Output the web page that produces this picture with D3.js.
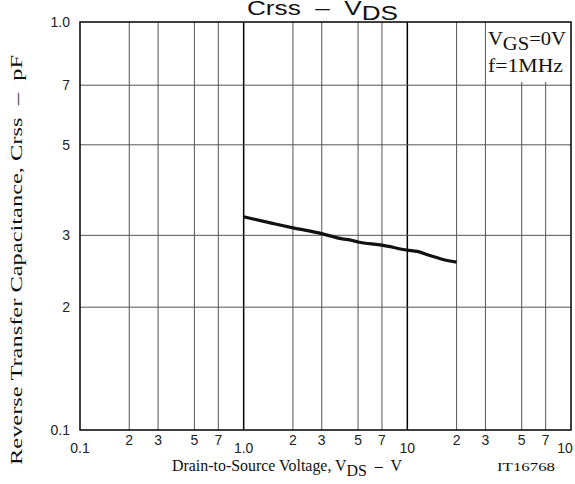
<!DOCTYPE html>
<html><head><meta charset="utf-8">
<script src="https://cdn.jsdelivr.net/npm/d3@7"></script>
<style>body{margin:0;background:#fff}svg{display:block}text{white-space:pre}</style>
</head><body>
<svg id="c" width="575" height="484"></svg>
<script>
// Data (VDS in V, Crss in pF)
const vds  = [1, 1.5, 2, 3, 4, 4.5, 5, 7, 10, 11.5, 14, 17, 20];
const crss = [3.33, 3.21, 3.13, 3.03, 2.94, 2.92, 2.89, 2.84, 2.76, 2.74, 2.67, 2.61, 2.58];
const xTicks = [0.1,0.2,0.3,0.5,0.7,1,2,3,5,7,10,20,30,50,70,100];
const xTickLabels = ["0.1","2","3","5","7","1.0","2","3","5","7","10","2","3","5","7","10"];
const yTicks = [1,2,3,5,7,10];
const yTickLabels = ["0.1","2","3","5","7","1.0"];

const svg = d3.select("#c");
const L=80,R=571,T=22,B=430;
const x = d3.scaleLog().domain([0.1,100]).range([L,R]);
const y = d3.scaleLog().domain([1,10]).range([B,T]);
const major = v => Math.abs(Math.log10(v)-Math.round(Math.log10(v)))<1e-9;
const sans = "Liberation Sans, Arial, sans-serif";
const serif = "Liberation Serif, Times New Roman, serif";

// grid verticals
svg.append("g").selectAll("line").data(xTicks.filter(v=>v>0.1&&v<100)).join("line")
  .attr("x1",d=>x(d)).attr("x2",d=>x(d)).attr("y1",d=>(d===50||d===70)?82:T).attr("y2",B)
  .attr("stroke",d=>major(d)?"#000":"#555").attr("stroke-width",d=>major(d)?1.5:1);
// grid horizontals
svg.append("g").selectAll("line").data(yTicks.filter(v=>v>1&&v<10)).join("line")
  .attr("x1",L).attr("x2",R).attr("y1",d=>y(d)).attr("y2",d=>y(d))
  .attr("stroke","#555").attr("stroke-width",1);
// legend box background
svg.append("rect").attr("x",486).attr("y",T).attr("width",R-486).attr("height",82-T).attr("fill","#fff");
// border
svg.append("rect").attr("x",L).attr("y",T).attr("width",R-L).attr("height",B-T)
  .attr("fill","none").attr("stroke","#000").attr("stroke-width",1.5);

// curve
svg.append("path").datum(vds.map((v,i)=>[v,crss[i]]))
  .attr("d",d3.line().x(d=>x(d[0])).y(d=>y(d[1])).curve(d3.curveMonotoneX))
  .attr("fill","none").attr("stroke","#111").attr("stroke-width",3.2);

// x tick labels
svg.append("g").selectAll("text").data(xTicks).join("text")
  .attr("x",(d,i)=> i===xTicks.length-1 ? 565 : x(d))
  .attr("y",d=>major(d)?453:445)
  .attr("text-anchor","middle").attr("font-family",sans)
  .attr("font-size",14).attr("fill","#222").text((d,i)=>xTickLabels[i]);
// y tick labels
svg.append("g").selectAll("text").data(yTicks).join("text")
  .attr("x",70).attr("y",d=>y(d)+5)
  .attr("text-anchor","end").attr("font-family",sans)
  .attr("font-size",14).attr("fill","#222").text((d,i)=>yTickLabels[i]);

// title
const t = svg.append("text").attr("x",247).attr("y",15)
  .attr("font-family",sans).attr("font-size",20).attr("fill","#111")
  .attr("textLength",151).attr("lengthAdjust","spacingAndGlyphs");
t.append("tspan").text("Crss  –  V");
t.append("tspan").attr("dy",5).text("DS");

// legend text
const l1 = svg.append("text").attr("x",488).attr("y",45).attr("font-family",serif).attr("font-size",19).attr("fill","#111")
  .attr("textLength",78).attr("lengthAdjust","spacingAndGlyphs");
l1.append("tspan").text("V");
l1.append("tspan").attr("dy",5).text("GS");
l1.append("tspan").attr("dy",-5).text("=0V");
svg.append("text").attr("x",488).attr("y",72).attr("font-family",serif).attr("font-size",19).attr("fill","#111")
  .attr("textLength",75).attr("lengthAdjust","spacingAndGlyphs").text("f=1MHz");

// y axis label
svg.append("text").attr("transform","translate(22,465) rotate(-90)")
  .attr("font-family",serif).attr("font-size",17.5).attr("fill","#111")
  .attr("textLength",410).attr("lengthAdjust","spacingAndGlyphs")
  .text("Reverse Transfer Capacitance, Crss  –  pF");

// x axis label
const xl = svg.append("text").attr("x",172).attr("y",471).attr("font-family",serif).attr("font-size",17.5).attr("fill","#111")
  .attr("textLength",230).attr("lengthAdjust","spacingAndGlyphs");
xl.append("tspan").text("Drain-to-Source Voltage, V");
xl.append("tspan").attr("dy",5).text("DS");
xl.append("tspan").attr("dy",-5).text("  –  V");
svg.append("text").attr("x",497).attr("y",471).attr("font-family",serif).attr("font-size",13).attr("fill","#111")
  .attr("textLength",58).attr("lengthAdjust","spacingAndGlyphs").text("IT16768");
</script>
</body></html>
